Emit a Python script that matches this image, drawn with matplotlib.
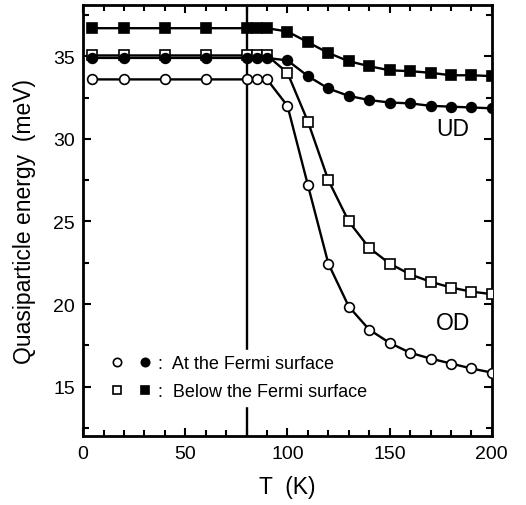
import matplotlib
matplotlib.use('Agg')
import matplotlib.pyplot as plt
from matplotlib.legend_handler import HandlerTuple
from matplotlib.lines import Line2D
from matplotlib.ticker import MultipleLocator

plt.rcParams['font.family'] = ['Liberation Sans', 'DejaVu Sans']

# --- dados ---
temp = [4.2, 20, 40, 60, 80, 85, 90, 100, 110, 120, 130, 140, 150, 160, 170, 180, 190, 200]

ud_abaixo = [36.7, 36.7, 36.7, 36.7, 36.7, 36.7, 36.7, 36.5, 35.85, 35.2, 34.7, 34.4,
             34.15, 34.1, 34.0, 33.85, 33.85, 33.8]
ud_fermi = [34.9, 34.9, 34.9, 34.9, 34.9, 34.9, 34.9, 34.75, 33.8, 33.05, 32.6, 32.35,
            32.2, 32.15, 32.0, 31.95, 31.9, 31.85]
od_abaixo = [35.05, 35.05, 35.05, 35.05, 35.05, 35.05, 35.05, 34.0, 31.05, 27.5, 25.0, 23.4,
             22.45, 21.8, 21.35, 21.0, 20.75, 20.6]
od_fermi = [33.6, 33.6, 33.6, 33.6, 33.6, 33.6, 33.6, 32.0, 27.2, 22.45, 19.85, 18.45,
            17.65, 17.05, 16.7, 16.4, 16.1, 15.85]

tc = 80

# --- grafico ---
fig = plt.figure(figsize=(5.26, 5.06), dpi=100)
ax = fig.add_axes([0.158, 0.136, 0.777, 0.852])

ax.axvline(tc, color='black', lw=1.7, zorder=1)

estilo = dict(color='black', lw=1.7, ms=7, mew=1.2, zorder=3)
ax.plot(temp, od_abaixo, marker='s', mfc='white', **estilo)
ax.plot(temp, ud_fermi, marker='o', mfc='black', **estilo)
ax.plot(temp, od_fermi, marker='o', mfc='white', **estilo)
ax.plot(temp, ud_abaixo, marker='s', mfc='black', **estilo)

ax.text(181, 30.6, 'UD', fontsize=16.5, ha='center', va='center')
ax.text(181, 18.9, 'OD', fontsize=16.5, ha='center', va='center')

ax.set_xlim(0, 200)
ax.set_ylim(12, 38.1)
ax.xaxis.set_major_locator(MultipleLocator(50))
ax.xaxis.set_minor_locator(MultipleLocator(10))
ax.yaxis.set_major_locator(MultipleLocator(5))
ax.yaxis.set_minor_locator(MultipleLocator(2.5))
ax.tick_params(which='both', direction='in', top=True, right=True, width=1.5, labelsize=14)
ax.tick_params(which='major', length=6, pad=6)
ax.tick_params(which='minor', length=4)
for s in ax.spines.values():
    s.set_linewidth(2)

ax.set_xlabel('T  (K)', fontsize=16.5, labelpad=10)
ax.set_ylabel('Quasiparticle energy  (meV)', fontsize=16.5, labelpad=12)

m = dict(color='black', ls='none', ms=6, mew=1.2)
h1 = (Line2D([], [], marker='o', mfc='white', **m), Line2D([], [], marker='o', mfc='black', **m))
h2 = (Line2D([], [], marker='s', mfc='white', **m), Line2D([], [], marker='s', mfc='black', **m))
leg = ax.legend([h1, h2], [':  At the Fermi surface', ':  Below the Fermi surface'],
                handler_map={tuple: HandlerTuple(ndivide=None, pad=0.8)},
                loc='lower left', bbox_to_anchor=(0.03, 0.05), fontsize=13,
                frameon=True, fancybox=False, edgecolor='white', facecolor='white',
                framealpha=1, handlelength=2.3, handletextpad=0.35, labelspacing=0.6,
                borderpad=0.3)
leg.set_zorder(5)

fig.savefig('out.png', dpi=100)
